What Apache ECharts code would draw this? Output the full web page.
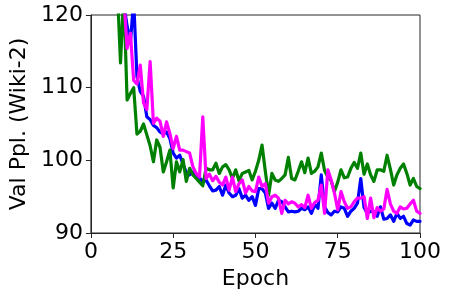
<!DOCTYPE html>
<html>
<head>
<meta charset="utf-8">
<script src="https://cdn.jsdelivr.net/npm/echarts@6/dist/echarts.min.js"></script>
<style>
  html, body { margin: 0; padding: 0; background: #fff; }
  #chart { width: 449px; height: 297px; }
</style>
</head>
<body>
<div id="chart"></div>
<script>
// validation perplexity per epoch (epoch = index + 1); early epochs sit above the plot top
const blueVals = [
  300, 240, 200, 175, 158, 146, 138, 131, 126, 121.5,
  118.5, 116.2, 122, 111.5, 109.5, 108.8, 106, 105.6, 104.8, 104.5,
  103.9, 103.6, 103.9, 103, 101, 100.3, 100.7, 99.5, 98.3, 98,
  98.4, 97.7, 97.6, 97.1, 97.3, 96.5, 95.8, 95.9, 96.4, 95.2,
  96.6, 95.5, 95, 95.2, 96.1, 94.8, 95.2, 94.5, 95, 93.8,
  96.1, 96.1, 95.5, 93.4, 94.1, 93.4, 94.5, 94.3, 93.6, 92.9,
  93, 92.9, 93, 93.4, 93.2, 93.6, 92.7, 93.9, 93.4, 98,
  93.6, 92.8, 92.5, 93, 92.9, 93.6, 93.4, 92.3, 93, 93.4,
  94.1, 97.5, 93.5, 92.7, 93, 92.9, 92.3, 93.6, 91.9, 92,
  92.5, 91.6, 92.7, 92, 92.3, 91.3, 91.1, 91.8, 91.6, 91.6
]
const greenVals = [
  300, 230, 190, 165, 148, 138, 130, 124, 113.4, 123,
  108.3, 109.2, 110, 103.6, 104, 105, 103.5, 102, 99.8, 102.8,
  101.8, 98.4, 99.8, 101.4, 96.2, 99.8, 98.4, 100.1, 97.1, 98.9,
  98, 97.5, 97, 96.5, 98.9, 98.7, 98.7, 99.6, 98.2, 99.1,
  99.4, 98.7, 97.5, 98.7, 97.2, 98.2, 98.4, 98.6, 97.3, 98.5,
  100, 102.1, 98.5, 95.2, 98.2, 97.3, 97.1, 97.5, 98, 100.4,
  97.5, 97.3, 98.5, 99.8, 98.3, 100.3, 98.2, 98.5, 99.1, 101,
  98.6, 97.7, 97.2, 95.7, 97, 98.7, 97.6, 97.7, 98.9, 99.7,
  98.9, 101, 98.1, 99.5, 98, 97.1, 98.7, 98.7, 98.5, 100.7,
  98.8, 96.6, 98, 98.9, 99.5, 98.2, 96.6, 97.5, 96.4, 96.1
]
const magentaVals = [
  300, 235, 195, 170, 153, 142, 134, 128, 125, 122.5,
  115.4, 117.5, 111, 110.5, 113.1, 107.9, 107, 113.6, 105.1, 105.8,
  105.4, 103.3, 105.3, 103.7, 101.6, 103.3, 101.4, 101.4, 101.2, 101,
  99.1, 98.2, 97.7, 106, 97.5, 98.1, 97.2, 97.8, 97, 96.6,
  97.7, 95.9, 97.7, 95.7, 96.8, 97.3, 95.5, 96.4, 95.8, 95.7,
  97.7, 96.4, 96.8, 94.1, 95, 95.2, 94.8, 92.7, 94.5, 94,
  94.3, 94.1, 93.6, 93.9, 93.5, 95.2, 93.4, 94.2, 94.5, 96.6,
  92.7, 98.7, 97.3, 95.5, 93.2, 95.7, 94.3, 93.4, 93.6, 94.3,
  94.8, 94.8, 95, 92, 94.8, 92.1, 93.5, 93, 93.3, 96,
  94, 93, 92.7, 93.6, 93.3, 93.4, 94, 94.5, 93, 92.7
]
const xTicks = [0, 25, 50, 75, 100]
const yTicks = [90, 100, 110, 120]

const toPoints = vals => vals.map((v, i) => [i + 1, v])

const chart = echarts.init(document.getElementById("chart"), null, { renderer: "canvas" })

const axisColor = "#262626"
const font = "DejaVu Sans"

function lineSeries(name, vals, color) {
  return {
    name,
    type: "line",
    data: toPoints(vals),
    showSymbol: false,
    symbol: "none",
    clip: true,
    animation: false,
    lineStyle: { color, width: 3.2, join: "round", cap: "round" }
  }
}

chart.setOption({
  animation: false,
  backgroundColor: "#ffffff",
  grid: {
    left: 85,
    right: 29,
    top: 15,
    bottom: 64,
    show: true,
    borderColor: axisColor,
    borderWidth: 1,
    backgroundColor: "transparent"
  },
  xAxis: {
    type: "value",
    min: xTicks[0],
    max: xTicks[xTicks.length - 1],
    interval: 25,
    name: "Epoch",
    nameLocation: "middle",
    nameGap: 35,
    nameTextStyle: { fontFamily: font, fontSize: 22, color: "#000" },
    axisLine: { show: true, lineStyle: { color: axisColor, width: 1 } },
    axisTick: { show: true, length: 5, inside: false, lineStyle: { color: axisColor } },
    axisLabel: { fontFamily: font, fontSize: 22, color: "#000", margin: 8 },
    splitLine: { show: false }
  },
  yAxis: {
    type: "value",
    min: yTicks[0],
    max: yTicks[yTicks.length - 1],
    interval: 10,
    name: "Val Ppl. (Wiki-2)",
    nameLocation: "middle",
    nameGap: 57,
    nameTextStyle: { fontFamily: font, fontSize: 22, color: "#000" },
    axisLine: { show: true, lineStyle: { color: axisColor, width: 1 } },
    axisTick: { show: true, length: 5, inside: false, lineStyle: { color: axisColor } },
    axisLabel: { fontFamily: font, fontSize: 22, color: "#000", margin: 8 },
    splitLine: { show: false }
  },
  series: [
    lineSeries("blue", blueVals, "#0000ff"),
    lineSeries("green", greenVals, "#008000"),
    lineSeries("magenta", magentaVals, "#ff00ff")
  ]
})
</script>
</body>
</html>
